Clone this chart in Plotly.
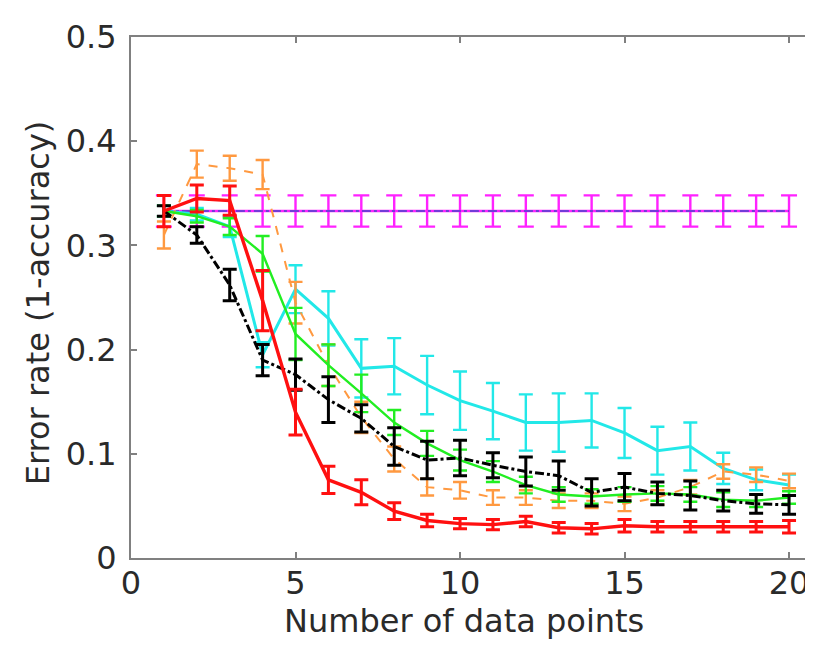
import plotly.graph_objects as go

x_points = list(range(1, 21))

magenta_vals = [0.333] * 20
magenta_err = [0.015] * 20

blue_vals = [0.333] * 20

cyan_vals = [0.333, 0.330, 0.318, 0.195, 0.258, 0.230, 0.182, 0.184, 0.166, 0.151,
             0.141, 0.130, 0.130, 0.132, 0.120, 0.103, 0.107, 0.086, 0.075, 0.070]
cyan_err = [0.005, 0.006, 0.010, 0.012, 0.023, 0.026, 0.028, 0.027, 0.028, 0.028,
            0.027, 0.027, 0.028, 0.026, 0.024, 0.023, 0.023, 0.015, 0.010, 0.010]

green_vals = [0.333, 0.328, 0.318, 0.292, 0.215, 0.185, 0.158, 0.130, 0.110, 0.094,
              0.083, 0.070, 0.061, 0.059, 0.061, 0.062, 0.061, 0.056, 0.055, 0.058]
green_err = [0.005, 0.006, 0.008, 0.017, 0.025, 0.020, 0.018, 0.012, 0.012, 0.010,
             0.010, 0.008, 0.007, 0.007, 0.007, 0.007, 0.007, 0.007, 0.006, 0.006]

orange_vals = [0.310, 0.378, 0.374, 0.368, 0.245, 0.185, 0.135, 0.095, 0.068, 0.065,
               0.058, 0.058, 0.055, 0.055, 0.052, 0.058, 0.068, 0.083, 0.080, 0.074]
orange_err = [0.013, 0.013, 0.012, 0.014, 0.020, 0.020, 0.015, 0.012, 0.008, 0.008,
              0.007, 0.007, 0.007, 0.007, 0.007, 0.007, 0.007, 0.007, 0.007, 0.007]

black_vals = [0.333, 0.310, 0.262, 0.190, 0.176, 0.152, 0.134, 0.107, 0.094, 0.096,
              0.089, 0.083, 0.079, 0.063, 0.068, 0.062, 0.060, 0.055, 0.052, 0.051]
black_err = [0.005, 0.008, 0.015, 0.015, 0.015, 0.022, 0.013, 0.018, 0.018, 0.017,
             0.012, 0.014, 0.014, 0.013, 0.013, 0.011, 0.014, 0.010, 0.009, 0.009]

red_vals = [0.333, 0.345, 0.343, 0.247, 0.140, 0.075, 0.063, 0.045, 0.036, 0.033,
            0.032, 0.035, 0.029, 0.028, 0.031, 0.030, 0.030, 0.030, 0.030, 0.030]
red_err = [0.015, 0.013, 0.014, 0.029, 0.022, 0.013, 0.012, 0.008, 0.006, 0.005,
           0.005, 0.005, 0.005, 0.005, 0.006, 0.005, 0.005, 0.005, 0.005, 0.006]

x_tick_vals = [0, 5, 10, 15, 20]
x_tick_text = ["0", "5", "10", "15", "20"]
y_tick_vals = [0, 0.1, 0.2, 0.3, 0.4, 0.5]
y_tick_text = ["0", "0.1", "0.2", "0.3", "0.4", "0.5"]

x_title = "Number of data points"
y_title = "Error rate (1-accuracy)"

fig = go.Figure()


def add_series(vals, err, color, width, dash, ethick=2.4, ewidth=7):
    kw = {}
    if err is not None:
        kw["error_y"] = dict(type="data", array=err, visible=True, color=color,
                             thickness=ethick, width=ewidth)
    fig.add_trace(go.Scatter(x=x_points, y=vals, mode="lines",
                             line=dict(color=color, width=width, dash=dash),
                             showlegend=False, **kw))


add_series(magenta_vals, magenta_err, "#ff22ff", 2.4, "solid", ewidth=8)
add_series(blue_vals, None, "#4444cc", 1.6, "dashdot")
add_series(cyan_vals, cyan_err, "#22e8e8", 3.0, "solid")
add_series(orange_vals, orange_err, "#ff9940", 2.0, "dash")
add_series(green_vals, green_err, "#22ee22", 2.4, "solid")
add_series(black_vals, black_err, "#000000", 3.0, "dashdot", ethick=3.0)
add_series(red_vals, red_err, "#ff1010", 3.4, "solid", ethick=3.0)

font_family = "DejaVu Sans, Liberation Sans, Arial, sans-serif"
axis_color = "#808080"
text_color = "#2a2a2a"
fsize = 32

L, R, T, B = 123, 2, 29, 96
W, H = 813, 646
plot_w = W - L - R
plot_h = H - T - B

fig.update_layout(
    width=W, height=H,
    margin=dict(l=L, r=R, t=T, b=B),
    paper_bgcolor="white", plot_bgcolor="white",
    font=dict(family=font_family, size=fsize, color=text_color),
)
fig.update_xaxes(
    range=[0, 20.85], tickvals=x_tick_vals, ticktext=x_tick_text,
    showgrid=False, zeroline=False, showline=True, linecolor=axis_color, linewidth=2,
    mirror="allticks", ticks="inside", ticklen=6, tickcolor=axis_color, tickwidth=1.5,
    tickfont=dict(size=fsize, color=text_color), ticklabelstandoff=-4,
)
fig.update_yaxes(
    range=[0, 0.5], tickvals=y_tick_vals, ticktext=y_tick_text,
    showgrid=False, zeroline=False, showline=True, linecolor=axis_color, linewidth=2,
    mirror="allticks", ticks="inside", ticklen=6, tickcolor=axis_color, tickwidth=1.5,
    tickfont=dict(size=fsize, color=text_color), ticklabelstandoff=6,
)

fig.add_annotation(text=x_title, xref="paper", yref="paper",
                   x=(457 - L) / plot_w, y=-(592 - (H - B)) / plot_h,
                   xanchor="center", yanchor="top", showarrow=False,
                   font=dict(size=fsize, color=text_color))
fig.add_annotation(text=y_title, xref="paper", yref="paper", textangle=-90,
                   x=-(L - 30) / plot_w, y=((H - B) - 295) / plot_h,
                   xanchor="center", yanchor="middle", showarrow=False,
                   font=dict(size=fsize, color=text_color))

fig.write_html("out.html")
